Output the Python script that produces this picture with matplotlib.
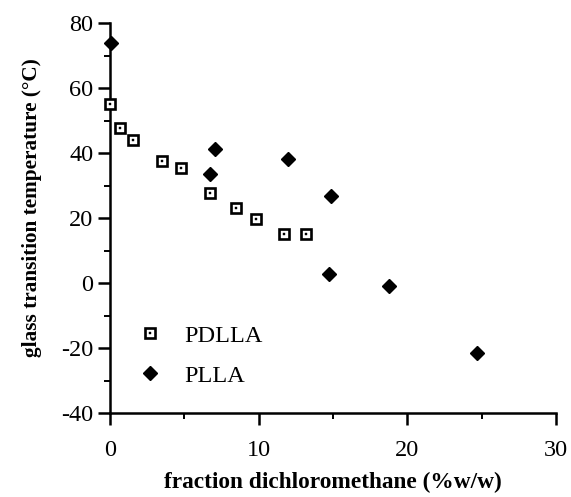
import numpy as np
import matplotlib.pyplot as plt

# PDLLA data (open squares)
pdlla_x = [0.0, 0.65, 1.55, 3.5, 4.8, 6.7, 8.5, 9.8, 11.7, 13.2]
pdlla_y = [55.1, 47.7, 44.0, 37.6, 35.4, 27.6, 23.1, 19.6, 15.1, 15.1]

# PLLA data (filled diamonds)
plla_x = [0.1, 7.05, 6.75, 12.0, 14.9, 14.75, 18.75, 24.7]
plla_y = [74.0, 41.2, 33.5, 38.3, 26.8, 2.8, -1.0, -21.4]

xticks = [0, 10, 20, 30]
yticks = [-40, -20, 0, 20, 40, 60, 80]


def plot_tg():
    plt.rcParams['font.family'] = ['Liberation Serif', 'DejaVu Serif']
    plt.rcParams['axes.unicode_minus'] = False
    fig = plt.figure(figsize=(5.71, 4.97), dpi=100)
    ax = fig.add_axes([0.1926, 0.169, 0.7811, 0.7847])

    sq, = ax.plot(pdlla_x, pdlla_y, 's', ms=7.2, mfc='white', mec='black',
                  mew=1.9, ls='none', clip_on=False, zorder=3)
    dot, = ax.plot(pdlla_x, pdlla_y, 's', ms=1.6, mfc='black', mec='black',
                   mew=0.3, ls='none', clip_on=False, zorder=4)
    dia, = ax.plot(plla_x, plla_y, 'D', ms=7.0, mfc='black', mec='black',
                   ls='none', clip_on=False, zorder=3)

    ax.set_xlim(0, 30)
    ax.set_ylim(-40, 80)
    ax.set_xticks(xticks)
    ax.set_yticks(yticks)
    ax.set_xticks(np.arange(5, 30, 10), minor=True)
    ax.set_yticks(np.arange(-30, 80, 20), minor=True)

    for s in ['top', 'right']:
        ax.spines[s].set_visible(False)
    for s in ['left', 'bottom']:
        ax.spines[s].set_linewidth(1.8)
    ax.tick_params(which='major', direction='out', length=8.5, width=1.8,
                   labelsize=17.5)
    ax.tick_params(axis='y', which='major', pad=3.5)
    ax.tick_params(axis='x', which='major', pad=11)
    ax.tick_params(which='minor', direction='out', length=4, width=1.4)

    ax.set_xlabel('fraction dichloromethane (%w/w)', fontsize=16.8,
                  fontweight='bold')
    ax.set_ylabel('glass transition temperature (\u00b0C)', fontsize=15.3,
                  fontweight='bold')
    ax.xaxis.set_label_coords(0.5, -0.15)
    ax.yaxis.set_label_coords(-0.152, 0.526)

    ax.legend([(sq, dot), dia], ['PDLLA', 'PLLA'], loc='upper left',
              bbox_to_anchor=(0.057, 0.226), frameon=False, fontsize=17.5,
              borderpad=0, borderaxespad=0,
              handlelength=1.2, handletextpad=0.8, labelspacing=0.73)

    fig.savefig('out.png', dpi=100)
    return


def main():
    plot_tg()


if __name__ == "__main__":
    main()
